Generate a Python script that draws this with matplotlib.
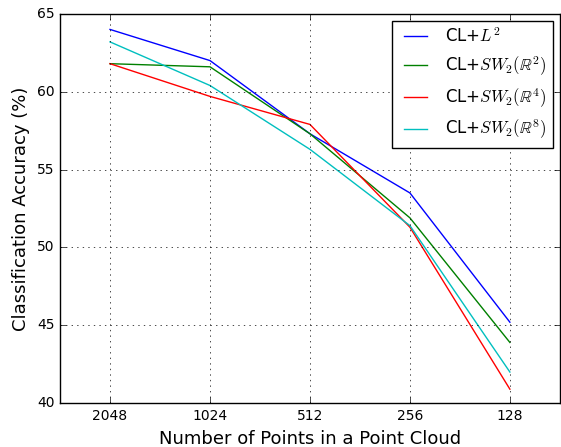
import matplotlib
matplotlib.use("Agg")
from matplotlib import pyplot as plt

plt.style.use('classic')
plt.rcParams['mathtext.fontset'] = 'cm'

points = ['2048', '1024', '512', '256', '128']
acc_l2 = [64.0, 62.0, 57.3, 53.5, 45.2]
acc_sw_r2 = [61.8, 61.6, 57.3, 51.9, 43.9]
acc_sw_r4 = [61.8, 59.7, 57.9, 51.3, 40.9]
acc_sw_r8 = [63.2, 60.4, 56.3, 51.4, 42.0]

fig = plt.figure(figsize=(5.61, 4.47), dpi=100)
ax = fig.add_axes([0.107, 0.098, 0.891, 0.871])

x = range(len(points))
ax.plot(x, acc_l2, color='b', label=r'CL+$L^2$')
ax.plot(x, acc_sw_r2, color='g', label=r'CL+$SW_2(\mathbb{R}^2)$')
ax.plot(x, acc_sw_r4, color='r', label=r'CL+$SW_2(\mathbb{R}^4)$')
ax.plot(x, acc_sw_r8, color='c', label=r'CL+$SW_2(\mathbb{R}^8)$')

ax.set_xticks(list(x))
ax.set_xticklabels(points)
ax.set_xlim(-0.5, 4.5)
ax.set_ylim(40, 65)
ax.grid(True)
ax.set_xlabel('Number of Points in a Point Cloud', fontsize=13)
ax.set_ylabel('Classification Accuracy (%)', fontsize=13)
ax.tick_params(labelsize=10)
ax.legend(loc='upper right', fontsize=12, borderaxespad=0.4)

fig.savefig('out.png', dpi=100)
